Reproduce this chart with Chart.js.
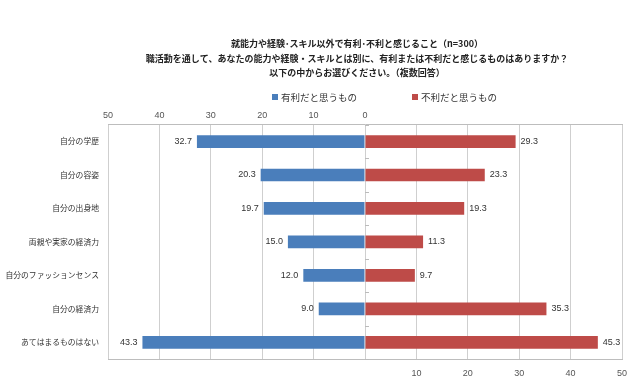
<!DOCTYPE html>
<html><head><meta charset="utf-8">
<script src="https://cdn.jsdelivr.net/npm/chart.js@4/dist/chart.umd.min.js"></script>
<style>html,body{margin:0;padding:0;background:#fff}</style>
</head><body>
<canvas id="c" width="640" height="386"></canvas>
<script>
const categories = ['自分の学歴','自分の容姿','自分の出身地','両親や実家の経済力','自分のファッションセンス','自分の経済力','あてはまるものはない'];
const favorable = [32.7, 20.3, 19.7, 15.0, 12.0, 9.0, 43.3];
const unfavorable = [29.3, 23.3, 19.3, 11.3, 9.7, 35.3, 45.3];
const seriesNames = ['有利だと思うもの','不利だと思うもの'];
const titleLines = [
  '就能力や経験･スキル以外で有利･不利と感じること（n=300）',
  '職活動を通して、あなたの能力や経験・スキルとは別に、有利または不利だと感じるものはありますか？',
  '以下の中からお選びください。（複数回答）'
];
const axisMin = -50, axisMax = 50, axisStep = 10;

const blue = '#4a7ebb', red = '#be4b48';
const jp = '"Noto Sans CJK JP", "Noto Sans", sans-serif';
const num = '"Liberation Sans", Arial, sans-serif';

const headerPlugin = {
  id: 'header',
  afterDraw(chart) {
    const ctx = chart.ctx;
    ctx.save();
    ctx.fillStyle = '#222';
    ctx.font = 'bold 9px ' + jp;
    ctx.textAlign = 'center';
    ctx.textBaseline = 'middle';
    const cx = 357;
    titleLines.forEach((t, i) => ctx.fillText(t, cx, 44 + i * 14.5));
    ctx.font = '9.5px ' + jp;
    ctx.textAlign = 'left';
    const items = [{x: 272, c: blue}, {x: 412, c: red}];
    items.forEach((it, i) => {
      ctx.fillStyle = it.c;
      ctx.fillRect(it.x, 94, 6, 6);
      ctx.fillStyle = '#333';
      ctx.fillText(seriesNames[i], it.x + 9, 97.5);
    });
    ctx.restore();
  }
};

const valueLabels = {
  id: 'valueLabels',
  afterDatasetsDraw(chart) {
    const ctx = chart.ctx;
    ctx.save();
    ctx.font = '9px ' + num;
    ctx.fillStyle = '#333';
    ctx.textBaseline = 'middle';
    chart.data.datasets.forEach((ds, di) => {
      const meta = chart.getDatasetMeta(di);
      meta.data.forEach((el, i) => {
        const v = Math.abs(ds.data[i]).toFixed(1);
        if (ds.data[i] < 0) { ctx.textAlign = 'right'; ctx.fillText(v, el.x - 5, el.y); }
        else { ctx.textAlign = 'left'; ctx.fillText(v, el.x + 5, el.y); }
      });
    });
    const xs = chart.scales.x, ys = chart.scales.y;
    const x0 = xs.getPixelForValue(0);
    ctx.strokeStyle = '#bbb';
    ctx.lineWidth = 1;
    for (let i = 0; i <= categories.length; i++) {
      let y;
      if (i === 0) y = ys.top; else if (i === categories.length) y = ys.bottom;
      else y = (ys.getPixelForTick(i - 1) + ys.getPixelForTick(i)) / 2;
      ctx.beginPath();
      ctx.moveTo(x0, Math.round(y) + 0.5);
      ctx.lineTo(x0 + 4, Math.round(y) + 0.5);
      ctx.stroke();
    }
    ctx.restore();
  }
};

new Chart(document.getElementById('c'), {
  type: 'bar',
  data: {
    labels: categories,
    datasets: [
      { label: seriesNames[0], data: favorable.map(v => -v), backgroundColor: blue, barPercentage: 0.38, categoryPercentage: 1 },
      { label: seriesNames[1], data: unfavorable, backgroundColor: red, barPercentage: 0.38, categoryPercentage: 1 }
    ]
  },
  options: {
    indexAxis: 'y',
    responsive: false,
    animation: false,
    devicePixelRatio: 1,
    layout: { padding: { top: 106, left: 0, right: 18, bottom: 0 } },
    plugins: { legend: { display: false }, title: { display: false }, tooltip: { enabled: false } },
    scales: {
      x: {
        type: 'linear', position: 'top', stacked: true, min: axisMin, max: axisMax,
        ticks: { stepSize: axisStep, autoSkip: false, padding: 4, color: '#555', font: { size: 9, family: num },
          callback: v => (v <= 0 ? Math.abs(v) : '') },
        grid: { color: '#cfcfcf', drawTicks: false },
        border: { display: true, color: '#bdbdbd' }
      },
      x2: {
        type: 'linear', position: 'bottom', min: axisMin, max: axisMax,
        afterFit(scale) { scale.height = 27; },
        ticks: { stepSize: axisStep, autoSkip: false, padding: 9, color: '#555', font: { size: 9, family: num },
          callback: v => (v > 0 ? v : '') },
        grid: { display: false, drawTicks: false },
        border: { display: true, color: '#bdbdbd' }
      },
      y: {
        stacked: true,
        afterFit(scale) { scale.width = 108; },
        ticks: { padding: 9, color: '#333', font: { size: 7.8, family: jp } },
        grid: { display: false, drawTicks: false },
        border: { display: false }
      }
    }
  },
  plugins: [headerPlugin, valueLabels]
});
</script>
</body></html>
